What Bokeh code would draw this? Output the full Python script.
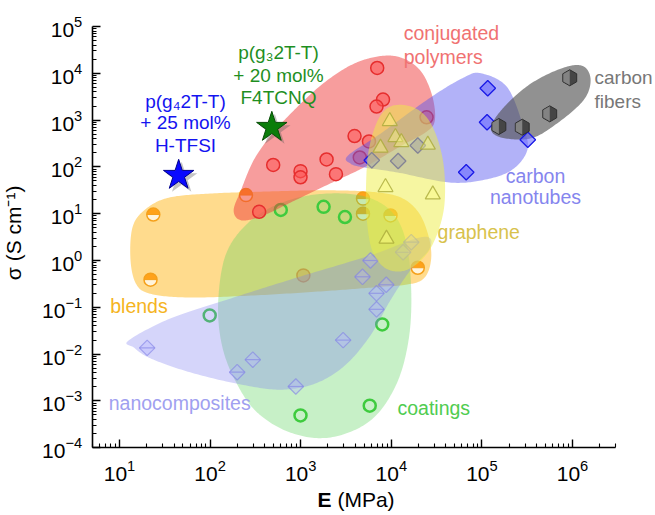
import numpy as np
from bokeh.plotting import figure
from bokeh.models import Label, FixedTicker
from bokeh.embed import file_html
from bokeh.resources import INLINE

# ---------------- data (E in MPa, sigma in S/cm) ----------------
# conjugated polymers
cp_E = [6990, 8100, 6870, 24500, 3930, 5670, 4490, 1930, 497, 995, 995, 2450, 348]
cp_s = [13000, 2750, 1950, 1150, 457, 349, 159, 144, 110, 81, 60, 70, 11]
cp_back_E = [1070]
cp_back_s = [0.48]
# carbon nanotubes
cnt_E = [116000, 114000, 321000, 67100, 19600, 11900, 6090]
cnt_s = [4800, 900, 380, 77, 287, 134, 139]
# carbon fibers
cf_E = [933000, 561000, 154000, 279000]
cf_s = [8020, 1360, 730, 705]
# graphene
gr_E = [9620, 11100, 12900, 7600, 25300, 8630, 28700, 8850]
gr_s = [947, 431, 337, 256, 297, 36.8, 25.7, 2.91]
# blends
bl_E = [23.6, 22, 249, 4870, 4870, 9800, 19600]
bl_s = [9.6, 0.39, 25, 21, 10, 9.2, 0.70]
# coatings
co_E = [603, 1790, 3080, 99, 7940, 995, 5780]
co_s = [12, 14, 8.5, 0.067, 0.043, 0.00049, 0.00079]
# nanocomposites
nc_E = [20.2, 199, 296, 883, 2940, 6870, 6870, 8790, 4810, 5890, 16600, 13500]
nc_s = [0.0136, 0.0041, 0.0076, 0.00203, 0.0199, 0.0906, 0.199, 0.303, 0.449, 1.0, 2.46, 1.5]
# highlighted materials
star_blue_E, star_blue_s = [45], [66]
star_green_E, star_green_s = [480], [700]

# region outlines (log10 E, log10 sigma)
reg_cp_x = [2.26, 2.34, 2.48, 2.67, 2.89, 3.22, 3.55, 3.85, 4.10, 4.32, 4.45, 4.48, 4.38, 4.10, 3.72, 3.33, 2.89, 2.56, 2.34]
reg_cp_y = [1.07, 1.50, 2.14, 2.67, 3.14, 3.74, 4.17, 4.36, 4.34, 4.06, 3.53, 2.99, 2.74, 2.44, 2.01, 1.65, 1.24, 0.94, 0.86]
reg_cnt_x = [3.52, 3.88, 4.43, 4.80, 4.99, 5.28, 5.46, 5.50, 5.32, 4.99, 4.62, 4.07, 3.69, 3.55]
reg_cnt_y = [2.24, 2.71, 3.48, 3.91, 4.00, 3.70, 2.84, 2.35, 1.92, 1.71, 1.67, 1.88, 1.99, 2.07]
reg_cf_x = [5.10, 5.21, 5.54, 5.83, 6.12, 6.20, 6.12, 5.90, 5.54, 5.24]
reg_cf_y = [2.84, 2.63, 2.61, 2.93, 3.42, 3.85, 4.15, 4.12, 3.78, 3.27]
reg_gr_x = [3.72, 3.75, 3.86, 4.02, 4.27, 4.45, 4.57, 4.59, 4.52, 4.38, 4.16, 3.94, 3.79, 3.73]
reg_gr_y = [1.50, 2.35, 3.03, 3.31, 3.25, 2.88, 2.14, 1.28, 0.64, 0.11, -0.21, -0.17, 0.21, 0.85]
reg_bl_x = [1.12, 1.15, 1.31, 1.56, 2.00, 2.56, 3.22, 3.77, 4.10, 4.30, 4.41, 4.44, 4.37, 4.19, 3.77, 3.22, 2.45, 1.75, 1.34, 1.18]
reg_bl_y = [0.06, 0.75, 1.13, 1.35, 1.43, 1.47, 1.50, 1.47, 1.35, 1.03, 0.53, 0.04, -0.36, -0.51, -0.58, -0.66, -0.75, -0.79, -0.71, -0.49]
reg_co_x = [2.09, 2.17, 2.39, 2.72, 3.16, 3.66, 3.99, 4.16, 4.22, 4.19, 4.05, 3.77, 3.33, 2.89, 2.50, 2.25, 2.12]
reg_co_y = [-0.85, 0.11, 0.75, 1.18, 1.41, 1.39, 1.07, 0.43, -0.64, -1.71, -2.67, -3.42, -3.78, -3.68, -3.21, -2.46, -1.71]
reg_nc_x = [1.10, 1.56, 2.23, 3.00, 3.77, 4.27, 4.43, 4.41, 4.21, 3.99, 3.77, 3.49, 3.16, 2.78, 2.34, 1.78, 1.34, 1.16]
reg_nc_y = [-1.71, -1.24, -0.81, -0.34, 0.11, 0.47, 0.47, 0.21, -0.21, -0.85, -1.60, -2.24, -2.63, -2.76, -2.65, -2.39, -2.09, -1.86]

x_ticks = [1e1, 1e2, 1e3, 1e4, 1e5, 1e6]
y_ticks = [1e-4, 1e-3, 1e-2, 1e-1, 1e0, 1e1, 1e2, 1e3, 1e4, 1e5]
x_axis_bounds = (5, 3e6)
y_axis_bounds = (1e-4, 1e5)

FONT = "Liberation Sans"


def smooth(lx, ly, n=20):
    P = np.column_stack([lx, ly]).astype(float)
    m = len(P)
    t = np.linspace(0, 1, n, endpoint=False)[:, None]
    segs = []
    for i in range(m):
        p0, p1, p2, p3 = P[i - 1], P[i], P[(i + 1) % m], P[(i + 2) % m]
        segs.append(0.5 * (2 * p1 + (-p0 + p2) * t + (2 * p0 - 5 * p1 + 4 * p2 - p3) * t ** 2
                           + (-p0 + 3 * p1 - 3 * p2 + p3) * t ** 3))
    S = np.vstack(segs)
    return list(10 ** S[:, 0]), list(10 ** S[:, 1])


# the frame fills the whole canvas; axes are pinned at the data-range corner
W, H = 655, 514
PX_DEC_X, PX_DEC_Y = 90.6, 46.8       # pixels per decade
X0_PX, Y0_PX = 119, 26                # where 10^1 (x) and 10^5 (y) sit on the canvas
x_lo = 10 ** (1 - X0_PX / PX_DEC_X)
x_hi = 10 ** (1 + (W - X0_PX) / PX_DEC_X)
y_hi = 10 ** (5 + Y0_PX / PX_DEC_Y)
y_lo = 10 ** (5 - (H - Y0_PX) / PX_DEC_Y)

p = figure(x_axis_type="log", y_axis_type="log", x_range=(x_lo, x_hi), y_range=(y_lo, y_hi),
           frame_width=W, frame_height=H, output_backend="svg", toolbar_location=None,
           min_border=0, background_fill_color="white", border_fill_color="white")
p.grid.visible = False
p.outline_line_color = None

minor_x = [m * 10 ** k for k in range(0, 7) for m in range(2, 10) if 5 <= m * 10 ** k <= 3e6]
minor_y = [m * 10 ** k for k in range(-4, 5) for m in range(2, 10)]
p.xaxis.ticker = FixedTicker(ticks=x_ticks, minor_ticks=minor_x)
p.yaxis.ticker = FixedTicker(ticks=y_ticks, minor_ticks=minor_y)
p.xaxis.fixed_location = y_axis_bounds[0]
p.yaxis.fixed_location = x_axis_bounds[0]
p.xaxis.bounds = x_axis_bounds
p.yaxis.bounds = y_axis_bounds
for ax in (p.xaxis[0], p.yaxis[0]):
    ax.major_tick_in = 8
    ax.major_tick_out = 0
    ax.minor_tick_in = 4
    ax.minor_tick_out = 0
    ax.axis_line_width = 1.6
    ax.axis_line_color = "black"
    ax.major_tick_line_width = 1.4
    ax.minor_tick_line_width = 1.1
    ax.major_tick_line_color = "black"
    ax.minor_tick_line_color = "black"
    ax.major_label_text_font = FONT
    ax.major_label_text_font_size = "21px"
    ax.major_label_text_color = "black"
p.xaxis.major_label_standoff = 12
p.yaxis.major_label_standoff = 10


def region(lx, ly, color, alpha):
    xs, ys = smooth(lx, ly)
    p.patch(xs, ys, fill_color=color, fill_alpha=alpha, line_color=None)


# point hidden behind everything
p.scatter(cp_back_E, cp_back_s, marker="circle", size=13, fill_color="#ff6060", fill_alpha=0.45,
          line_color="#e03a3a", line_width=1.5, line_alpha=0.8)

# blends
region(reg_bl_x, reg_bl_y, "#ffb81c", 0.5)
p.scatter(bl_E, bl_s, marker="circle", size=13, fill_color="#fff4dc", line_color=None)
p.wedge(x=bl_E, y=bl_s, radius=6.5, radius_units="screen", start_angle=0, end_angle=np.pi,
        fill_color="#ffa21a", line_color=None)
p.scatter(bl_E, bl_s, marker="dash", size=13, line_color="#f5a01a", line_width=1)
p.scatter(bl_E, bl_s, marker="circle", size=13, fill_color=None, line_color="#f5a01a", line_width=1.5)

# coatings
region(reg_co_x, reg_co_y, "#5fd35f", 0.35)
p.scatter(co_E, co_s, marker="circle", size=12, fill_color=None, line_color="#3ecb3e", line_width=2.5)

# nanocomposites
region(reg_nc_x, reg_nc_y, "#8080f0", 0.33)
p.scatter(nc_E, nc_s, marker="square", angle=np.pi / 4, size=11, fill_color="#b8b8ff", fill_alpha=0.35,
          line_color="#8080e6", line_alpha=0.6, line_width=1.2)
p.scatter(nc_E, nc_s, marker="dash", size=15, line_color="#8080e6", line_alpha=0.6, line_width=1.2)

# conjugated polymers
region(reg_cp_x, reg_cp_y, "#f03c3c", 0.5)
p.scatter(cp_E, cp_s, marker="circle", size=13, fill_color="#ff5555", fill_alpha=0.55,
          line_color="#e62e2e", line_width=1.5)

# carbon nanotubes + carbon fibers regions
region(reg_cnt_x, reg_cnt_y, "#5555f0", 0.45)
region(reg_cf_x, reg_cf_y, "#4d4d4d", 0.62)
p.scatter(cnt_E, cnt_s, marker="square", angle=np.pi / 4, size=11, fill_color="#6a6aff", fill_alpha=0.6,
          line_color="#1a1ae6", line_width=1.3)

# graphene
region(reg_gr_x, reg_gr_y, "#eeee44", 0.5)
p.scatter(gr_E, gr_s, marker="triangle", size=15, fill_color="#ffff88", fill_alpha=0.4,
          line_color="#aaaa3a", line_alpha=0.8, line_width=1.2)

# carbon fibers points: dark hexagon with a lighter left half
p.scatter(cf_E, cf_s, marker="hex", angle=np.pi / 2, size=16, fill_color="#454545",
          line_color="#2e2e2e", line_width=1)
half = [(0, -7.5), (-6.5, -3.75), (-6.5, 3.75), (0, 7.5)]   # screen px offsets (y down)
hx = [[e * 10 ** (dx / PX_DEC_X) for dx, dy in half] for e in cf_E]
hy = [[s * 10 ** (-dy / PX_DEC_Y) for dx, dy in half] for s in cf_s]
p.patches(hx, hy, fill_color="#8a8a8a", fill_alpha=0.9, line_color=None)

# stars (with a soft shadow)
for (sx, sy, col, edge) in ((star_blue_E, star_blue_s, "#0a0aff", "#00008b"),
                            (star_green_E, star_green_s, "#0a7d0a", "#064d06")):
    p.scatter([v * 10 ** (3 / PX_DEC_X) for v in sx], [v * 10 ** (-3 / PX_DEC_Y) for v in sy],
              marker="star", size=33, fill_color="#555555", fill_alpha=0.35, line_color=None)
    p.scatter(sx, sy, marker="star", size=32, fill_color=col, line_color=edge, line_width=1)

LIFT = 6  # px: raise texts to match the reference baselines


def lab(x, y, text, color, size="19.5px", align="left", bold=False, angle=0.0, x_offset=0):
    if angle:
        x = x * 10 ** (-(LIFT + 13) / PX_DEC_X)
    else:
        y = y * 10 ** (LIFT / PX_DEC_Y)
    p.add_layout(Label(x=x, y=y, text=text, text_color=color, text_font=FONT,
                       text_font_size=size, text_align=align, text_baseline="alphabetic",
                       text_font_style="bold" if bold else "normal",
                       angle=angle, x_offset=x_offset))


lab(1.37e4, 5.3e4, "conjugated", "#f07272")
lab(1.37e4, 1.7e4, "polymers", "#f07272")
lab(1.75e6, 5970, "carbon", "#777777", size="19px")
lab(1.75e6, 1890, "fibers", "#777777", size="19px")
lab(3.9e5, 47, "carbon", "#8585ee", align="center")
lab(3.9e5, 17.1, "nanotubes", "#8585ee", align="center")
lab(3.24e4, 3.05, "graphene", "#d8c24c")
lab(7.9, 0.081, "blends", "#f5b422")
lab(7.6, 6.8e-4, "nanocomposites", "#a0a0f0")
lab(1.17e4, 5.3e-4, "coatings", "#50cc50")

lab(53.5, 1830, "p(g\u20842T-T)", "#1414f0", size="19px", align="center")
lab(53.5, 652, "+ 25 mol%", "#1414f0", size="19px", align="center")
lab(53.5, 217, "H-TFSI", "#1414f0", size="19px", align="center")
lab(569, 2.04e4, "p(g\u20832T-T)", "#1f8f1f", size="19px", align="center")
lab(569, 6680, "+ 20 mol%", "#1f8f1f", size="19px", align="center")
lab(569, 2230, "F4TCNQ", "#1f8f1f", size="19px", align="center")

# axis titles
lab(1530, 5.8e-6, "E", "black", size="21px", bold=True)
lab(1530, 5.8e-6, "(MPa)", "black", size="21px", x_offset=20)
lab(1.096, 3.9, "\u03c3 (S cm\u207b\u00b9)", "black", size="21px", align="center", angle=np.pi / 2)

open("out.html", "w").write(file_html(p, INLINE))
